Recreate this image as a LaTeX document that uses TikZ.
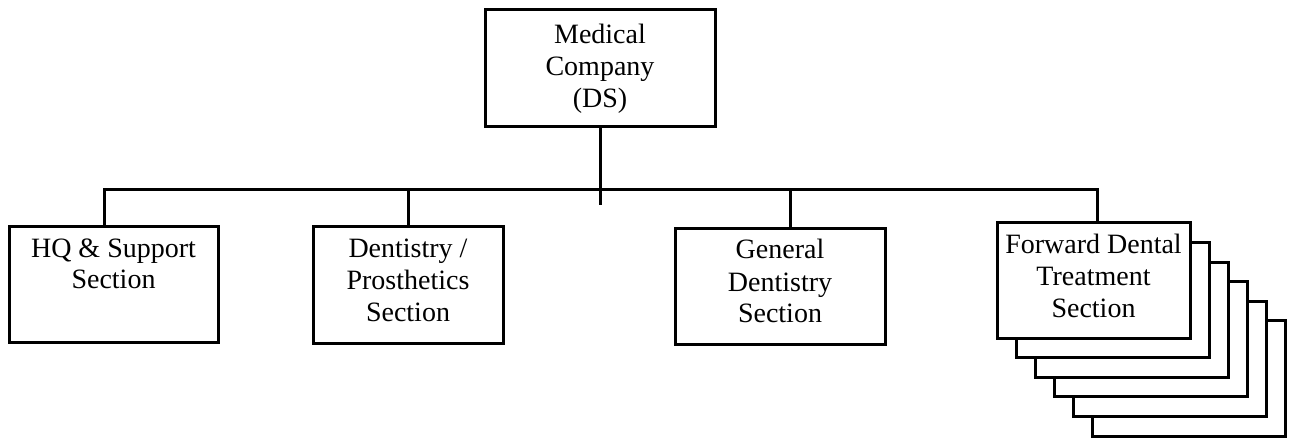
\documentclass[tikz,border=0pt]{standalone}
\usepackage{fontspec}
\setmainfont{Liberation Serif}
\usetikzlibrary{calc}
\newcommand\mystrut{\rule{0pt}{24pt}}
\begin{document}
\begin{tikzpicture}[x=1pt,y=-1pt, line width=3pt,
  box/.style={draw, fill=white, line width=3pt, inner sep=0pt, minimum width=#1, minimum height=115pt},
  lbl/.style={anchor=north, align=center, inner sep=0pt, font=\fontsize{28}{32}\selectfont},
  conn/.style={draw, line width=3pt, line join=miter}]
\useasboundingbox (0,0) rectangle (1293,438);

% top node
\node[box=230pt, minimum height=117pt, align=center, font=\fontsize{28}{32}\selectfont] (top) at (600,68.5) {Medical\\Company\\(DS)};

% children
\node[box=209pt] (hq) at (113.5,284.5) {};
\node[lbl] (hqt) at ([yshift=-6pt]hq.north) {\mystrut HQ \& Support\\Section};

\node[box=190pt, minimum height=116pt] (dp) at (408,285) {};
\node[lbl] (dpt) at ([yshift=-6pt]dp.north) {\mystrut Dentistry /\\Prosthetics\\Section};

\node[box=210pt] (gd) at (780,286.5) {};
\node[lbl] (gdt) at ([yshift=-6pt]gd.north) {\mystrut General\\Dentistry\\Section};

% stacked forward boxes
\foreach \k in {5,4,3,2,1}
  \node[box=193pt] (fwb\k) at (1093.5+19*\k, 280.5+19.6*\k) {};
\node[box=193pt] (fw) at (1093.5,280.5) {};
\node[lbl] (fwt) at ([yshift=-6pt]fw.north) {\mystrut Forward Dental\\Treatment\\Section};

% connectors
\coordinate (busL) at (104,190);
\coordinate (busR) at (1097,190);
\draw[conn] (top.south) -- ($(top.south)+(0,77)$);
\draw[conn] (hq.north -| busL) -- (busL) -- (busR) -- (busR |- fw.north);
\draw[conn] (dp.north) -- (dp.north |- busL);
\draw[conn] ([xshift=10pt]gd.north) -- ([xshift=10pt]gd.north |- busL);
\end{tikzpicture}
\end{document}
